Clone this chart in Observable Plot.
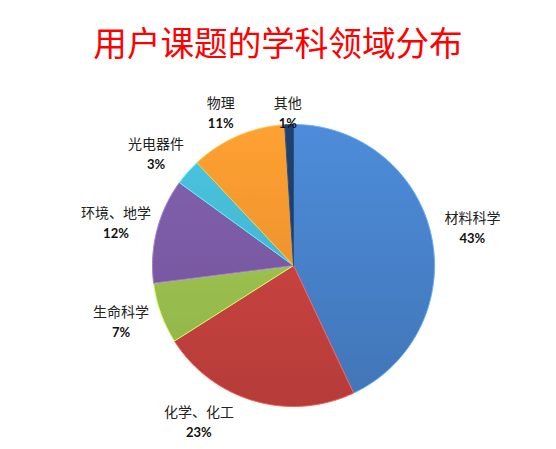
<!DOCTYPE html>
<html><head><meta charset="utf-8">
<script src="https://cdn.jsdelivr.net/npm/d3@7"></script>
<script src="https://cdn.jsdelivr.net/npm/@observablehq/plot@0.6"></script>
<style>
body{margin:0;background:#fff;}
#title{width:556px;height:80px;line-height:84px;text-align:center;color:#ff0000;font-size:33.6px;font-family:"Noto Sans CJK SC",sans-serif;}
</style></head><body>
<div id="title">用户课题的学科领域分布</div>
<div id="chart"></div>
<script>
const categories = ["材料科学","化学、化工","生命科学","环境、地学","光电器件","物理","其他"];
const shares = [43,23,7,12,3,11,1];
const colors = ["#4882cb","#c9433f","#9dc34f","#7b5ba5","#46b9d3","#f7962f","#1d3d66"];

const W=556, H=369, cx=293, cy=185, R=141;
const arcs = d3.pie().sort(null).value(d=>d)(shares);
const slices = arcs.flatMap((a,i)=>{
  const n = Math.max(2, Math.ceil((a.endAngle-a.startAngle)/0.01));
  const pts=[{i,x:0,y:0}];
  for(let k=0;k<=n;k++){const t=a.startAngle+(a.endAngle-a.startAngle)*k/n; pts.push({i,x:Math.sin(t),y:Math.cos(t)});}
  pts.push({i,x:0,y:0});
  return pts;
});
const yMin=(cy-342)/R, yMax=(cy-33)/R;
const labels = arcs.map((a,i)=>{
  const t=(a.startAngle+a.endAngle)/2;
  let x=1.3*Math.sin(t), y=1.19*Math.cos(t);
  if(y<yMin){y=yMin; x=Math.sign(Math.sin(t))*Math.sqrt(1.3*1.3-y*y);}
  if(y>yMax) y=yMax;
  return {name:categories[i], pct:shares[i]+"%", x, y};
});

const svg = Plot.plot({
  width:W, height:H, margin:0,
  x:{domain:[-cx/R,(W-cx)/R], axis:null},
  y:{domain:[-(H-cy)/R, cy/R], axis:null},
  color:{type:"identity"},
  marks:[
    Plot.line(slices,{x:"x",y:"y",z:"i",fill:d=>colors[d.i],stroke:d=>d3.color(colors[d.i]).brighter(0.8).formatHex(),strokeWidth:1,strokeLinejoin:"round"}),
    Plot.text(labels,{x:"x",y:"y",text:"name",dy:-10,fontSize:14,fontFamily:"Noto Sans CJK SC",fill:"#222"}),
    Plot.text(labels,{x:"x",y:"y",text:"pct",dy:10,fontSize:13,fontWeight:"bold",fontFamily:"Lato",fill:"#111"})
  ]
});
const ns="http://www.w3.org/2000/svg";
const defs=document.createElementNS(ns,"defs");
svg.insertBefore(defs, svg.firstChild);
svg.querySelectorAll('g[aria-label="line"] path').forEach((p,k)=>{
  const c=p.getAttribute("fill");
  if(!c||c==="none") return;
  const g=document.createElementNS(ns,"linearGradient");
  g.setAttribute("id","sg"+k); g.setAttribute("gradientUnits","userSpaceOnUse");
  g.setAttribute("x1",0); g.setAttribute("x2",0); g.setAttribute("y1",cy-R); g.setAttribute("y2",cy+R);
  [[0,d3.color(c).brighter(0.2).formatHex()],[1,d3.color(c).darker(0.3).formatHex()]].forEach(([o,col])=>{
    const s=document.createElementNS(ns,"stop"); s.setAttribute("offset",o); s.setAttribute("stop-color",col); g.appendChild(s);
  });
  defs.appendChild(g);
  p.setAttribute("fill","url(#sg"+k+")");
});
document.getElementById("chart").appendChild(svg);
</script>
</body></html>
